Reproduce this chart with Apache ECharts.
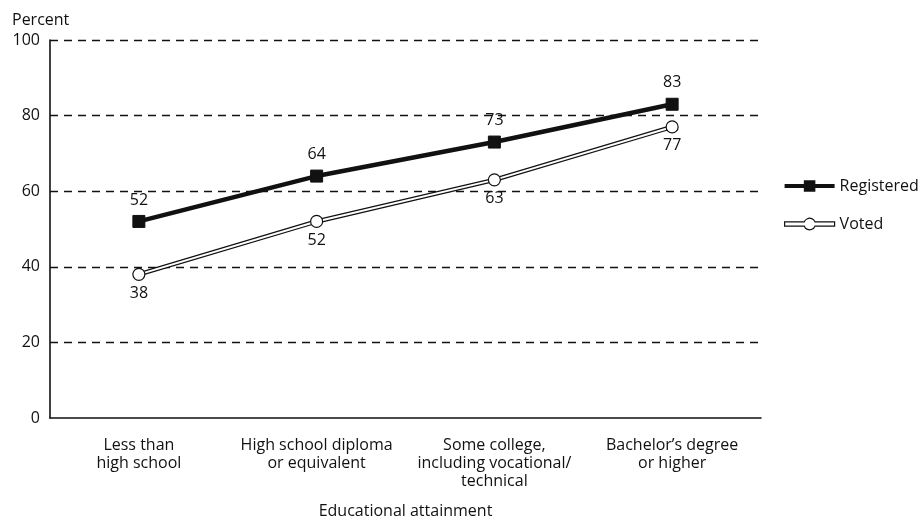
<!DOCTYPE html>
<html><head><meta charset="utf-8">
<script src="https://cdn.jsdelivr.net/npm/echarts@6/dist/echarts.min.js"></script>
<style>html,body{margin:0;padding:0;background:#fff}#c{width:924px;height:523px}</style>
</head><body><div id="c"></div>
<script>
const categories = ['Less than\nhigh school', 'High school diploma\nor equivalent', 'Some college,\nincluding vocational/\ntechnical', "Bachelor\u2019s degree\nor higher"];
const registered = [52, 64, 73, 83];
const voted = [38, 52, 63, 77];
const yTicks = [0, 20, 40, 60, 80, 100];

const FONT = 'Open Sans';
const FS = 16;
const chart = echarts.init(document.getElementById('c'), null, {renderer: 'canvas'});
const regIcon = 'path://M0 5 L20 5 L20 1 L32 1 L32 5 L52 5 L52 9 L32 9 L32 13 L20 13 L20 9 L0 9 Z';
const votedIcon = 'path://M0 4.75 L20.44 4.75 A6 6 0 0 1 31.56 4.75 L52 4.75 L52 9.25 L31.56 9.25 A6 6 0 0 1 20.44 9.25 L0 9.25 Z';
chart.setOption({
  animation: false,
  textStyle: {fontFamily: FONT, color: '#111'},
  grid: {left: 50, right: 163, top: 40, bottom: 105, containLabel: false, outerBoundsMode: 'none'},
  legend: {
    orient: 'vertical', left: 779, top: 173, itemWidth: 50, itemHeight: 14, itemGap: 22,
    textStyle: {fontFamily: FONT, fontSize: FS, color: '#111'},
    data: [
      {name: 'Registered', icon: regIcon, itemStyle: {color: '#111', borderWidth: 0}},
      {name: 'Voted', icon: votedIcon, itemStyle: {color: '#fff', borderColor: '#111', borderWidth: 1.2}}
    ]
  },
  xAxis: {
    type: 'category', data: categories, boundaryGap: true,
    name: 'Educational attainment', nameLocation: 'middle', nameGap: 85,
    nameTextStyle: {fontFamily: FONT, fontSize: FS, color: '#111'},
    axisLine: {lineStyle: {color: '#111', width: 1.6}},
    axisTick: {alignWithLabel: true, length: 6, lineStyle: {color: '#111', width: 1.5}},
    axisLabel: {fontFamily: FONT, fontSize: FS, color: '#111', margin: 18, lineHeight: 18, interval: 0}
  },
  yAxis: {
    type: 'value', min: 0, max: 100, interval: 20,
    name: 'Percent', nameLocation: 'end', nameGap: 12,
    nameTextStyle: {fontFamily: FONT, fontSize: FS, color: '#111', align: 'left', padding: [0, 0, 0, -38]},
    axisLine: {show: true, lineStyle: {color: '#111', width: 1.6}},
    axisTick: {show: false},
    axisLabel: {fontFamily: FONT, fontSize: FS, color: '#111', margin: 10,
      formatter: v => yTicks.includes(v) ? String(v) : ''},
    splitLine: {show: true, lineStyle: {color: '#111', width: 1.3, type: [8, 6]},
      showMinLine: false}
  },
  series: [
    {
      name: 'Registered', type: 'line', data: registered, z: 5,
      symbol: 'rect', symbolSize: 12,
      lineStyle: {color: '#111', width: 4.5},
      itemStyle: {color: '#111', borderColor: '#111'},
      label: {show: true, position: 'top', distance: 7, fontFamily: FONT, fontSize: FS, color: '#111'}
    },
    {
      name: 'VotedOutline', type: 'line', data: voted, z: 3, silent: true,
      symbol: 'none', lineStyle: {color: '#111', width: 4.5}
    },
    {
      name: 'Voted', type: 'line', data: voted, z: 4,
      symbol: 'circle', symbolSize: 12,
      lineStyle: {color: '#fff', width: 2},
      itemStyle: {color: '#fff', borderColor: '#111', borderWidth: 1.2},
      label: {show: true, position: 'bottom', distance: 4, fontFamily: FONT, fontSize: FS, color: '#111'}
    }
  ]
});
</script>
</body></html>
